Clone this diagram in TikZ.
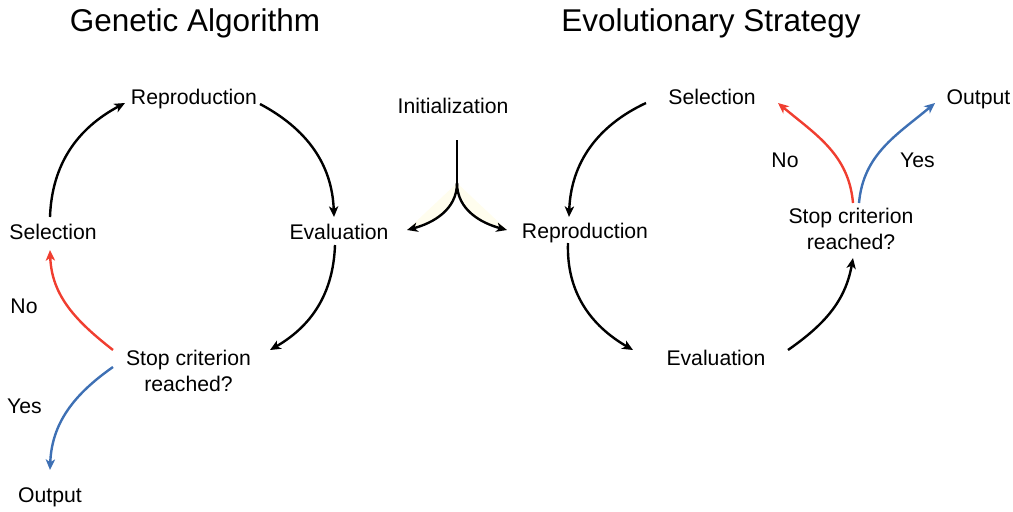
\documentclass[tikz,border=0pt]{standalone}
\usepackage{fontspec}
\setmainfont{Liberation Sans}
\usetikzlibrary{arrows.meta,calc}
\definecolor{noRed}{RGB}{240,62,48}
\definecolor{yesBlue}{RGB}{62,112,180}
\definecolor{glow}{RGB}{255,253,238}
\begin{document}
\begin{tikzpicture}[x=0.75pt,y=0.75pt,
  lbl/.style={inner sep=0pt,anchor=base,font=\fontsize{15.9}{19.5}\selectfont,align=center},
  ttl/.style={inner sep=0pt,anchor=base,font=\fontsize{23.6}{28}\selectfont},
  conn/.style={line width=1.8pt,-{Stealth[length=8pt,width=7pt,inset=2.2pt]}},
  noarrow/.style={conn,noRed},
  yesarrow/.style={conn,yesBlue}]
\path[use as bounding box] (0,0) rectangle (1013,-511);
% titles
\node[ttl] (t1) at (195,-31) {Genetic Algorithm};
\node[ttl] (t2) at (711,-31) {Evolutionary Strategy};
% GA nodes
\node[lbl] (rep1) at (194,-104) {Reproduction};
\node[lbl] (eval1) at (339,-239) {Evaluation};
\node[lbl] (sel1) at (53,-239) {Selection};
\node[lbl] (stop1) at (188.5,-391) {Stop criterion\\reached?};
\node[lbl] (out1) at (50,-502) {Output};
\node[lbl] (no1) at (24,-313) {No};
\node[lbl] (yes1) at (24.5,-413) {Yes};
% init
\node[lbl] (init) at (453,-113) {Initialization};
% ES nodes
\node[lbl] (rep2) at (585,-238) {Reproduction};
\node[lbl] (sel2) at (712,-104) {Selection};
\node[lbl] (eval2) at (716,-365) {Evaluation};
\node[lbl] (stop2) at (851,-249) {Stop criterion\\reached?};
\node[lbl] (out2) at (978.5,-104) {Output};
\node[lbl] (no2) at (785,-167) {No};
\node[lbl] (yes2) at (917.5,-167) {Yes};
% fork
\coordinate (ftop) at ($(init.base)+(4,-27)$);
\coordinate (fork) at ($(init.base)+(4,-70)$);
\fill[glow] (fork) to[out=-90,in=15] ($(eval1.base)+(68,9)$) -- cycle;
\fill[glow] (fork) to[out=-90,in=165] ($(rep2.base)+(-78,8)$) -- cycle;
\draw[line width=1.8pt] (ftop) -- (fork);
\draw[conn] (fork) to[out=-90,in=15] ($(eval1.base)+(68,9)$);
\draw[conn] (fork) to[out=-90,in=165] ($(rep2.base)+(-78,8)$);
% GA cycle
\draw[conn] ($(sel1.base)+(-3,22)$) to[out=88,in=208] ($(rep1.base)+(-69,1)$);
\draw[conn] ($(rep1.base)+(66,0)$) to[out=-28,in=92] ($(eval1.base)+(-5,22)$);
\draw[conn] ($(eval1.base)+(-4,-6)$) to[out=-92,in=30] ($(stop1.base)+(81.5,41)$);
\draw[noarrow] ($(stop1.base)+(-75.5,41)$) to[out=142,in=-88] ($(sel1.base)+(-3,-11)$);
\draw[yesarrow] ($(stop1.base)+(-75.5,24)$) to[out=215,in=88] ($(out1.base)+(0,32)$);
% ES cycle
\draw[conn] ($(sel2.base)+(-66,1)$) to[out=205,in=88] ($(rep2.base)+(-16,21)$);
\draw[conn] ($(rep2.base)+(-17,-5)$) to[out=-92,in=150] ($(eval2.base)+(-83,15)$);
\draw[conn] ($(eval2.base)+(72,15)$) to[out=35,in=-100] ($(stop2.base)+(2,-9)$);
\draw[noarrow] ($(stop2.base)+(2,46)$) to[out=95,in=-40] ($(sel2.base)+(66,1)$);
\draw[yesarrow] ($(stop2.base)+(8,46)$) to[out=85,in=220] ($(out2.base)+(-43.5,1)$);
\end{tikzpicture}
\end{document}
